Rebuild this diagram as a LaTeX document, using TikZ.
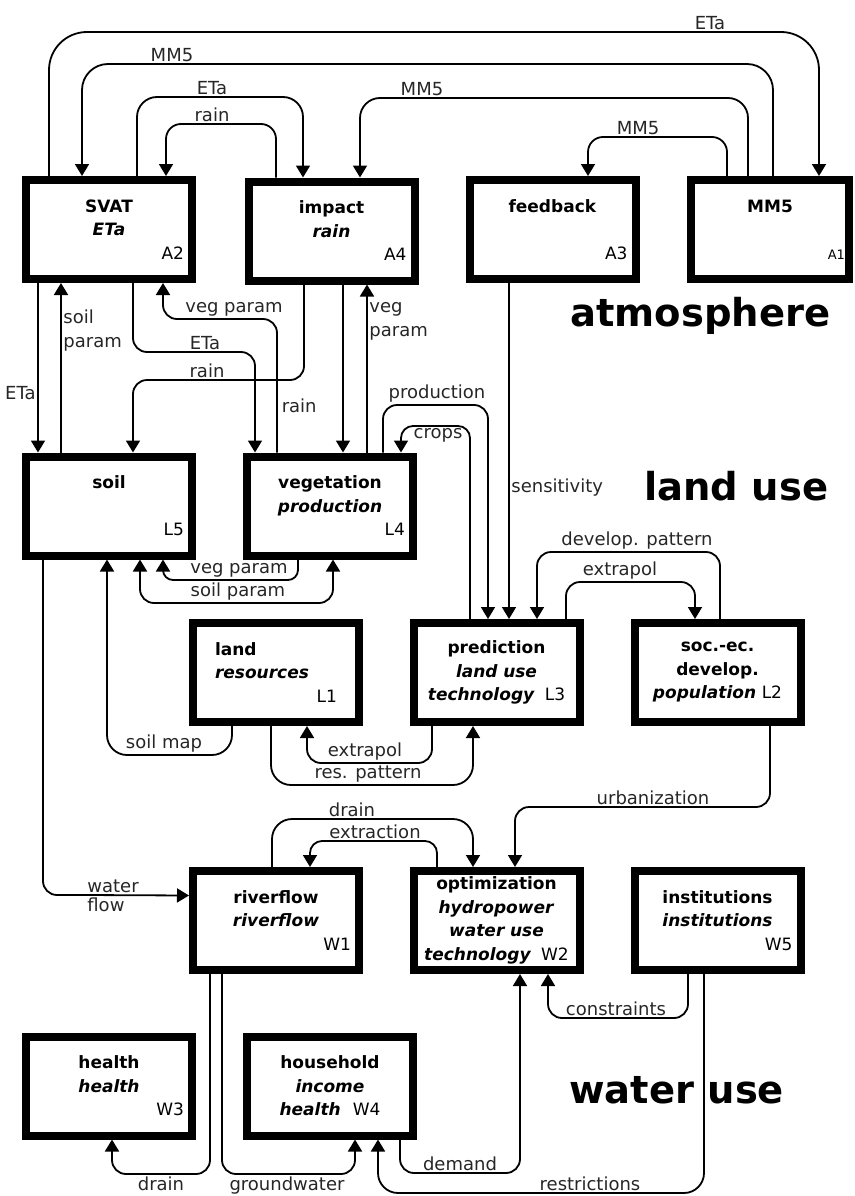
\documentclass[tikz,border=0pt]{standalone}
\usepackage{fontspec}
\setmainfont{DejaVu Sans}
\usetikzlibrary{arrows.meta,calc}
\newcommand\boxfont{\fontsize{17}{23.5}\selectfont}
\newcommand\lblfont{\fontsize{18}{23.5}\selectfont}
\newcommand\zonefont{\fontsize{38.5}{40}\selectfont\bfseries}
\newcommand\code[1]{\hspace*{\fill}#1\hspace*{14pt}}
\newcommand\bi[1]{\textbf{\textit{#1}}}

\begin{document}
\begin{tikzpicture}[x=1pt,y=-1pt,>={Triangle[length=12pt,width=14pt]},
		unit/.style={draw, line width=8pt, minimum width=166pt, minimum height=99pt, inner sep=0pt, text width=150pt, align=center, font=\boxfont},
		flow/.style={line width=1.8pt, rounded corners=14pt, ->},
		lbl/.style={font=\lblfont, text=black!85, inner sep=1.5pt},
		zone/.style={font=\zonefont, anchor=base west, inner sep=0pt}]
		\useasboundingbox (0,0) rectangle (854,1196);
		\node[unit] (svat) at (109,229.5) {\textbf{SVAT}\\\bi{ETa}\\\code{A2}};
		\node[unit] (impact) at (331.5,231) {\textbf{impact}\\\bi{rain}\\\code{A4}};
		\node[unit] (feedback) at (552.5,229.5) {\textbf{feedback}\\~\\\code{A3}};
		\node[unit, minimum width=158pt] (mm5) at (770,229.5) {\textbf{MM5}\\~\\\code{{\fontsize{13}{13}\selectfont A1}}};
		\node[unit] (soil) at (109,506) {\textbf{soil}\\~\\\code{L5}};
		\node[unit] (veg) at (330,506) {\textbf{vegetation}\\\bi{production}\\\code{L4}};
		\node[unit, align=left, text width=122pt] (land) at (276,672.5) {\textbf{land}\\\bi{resources}\\\hspace*{\fill}L1};
		\node[unit] (pred) at (496.5,672.5) {\textbf{prediction}\\\bi{land use}\\\bi{technology}\hspace{10pt}L3};
		\node[unit] (soc) at (717.5,672.5) {\textbf{soc.-ec.}\\\textbf{develop.}\\\bi{population} L2};
		\node[unit] (river) at (276,920.5) {\textbf{riverflow}\\\bi{riverflow}\\\code{W1}};
		\node[unit] (opt) at (496.5,920.5) {\textbf{optimization}\\\bi{hydropower}\\\bi{water use}\\\bi{technology}\hspace{10pt}W2};
		\node[unit] (inst) at (717.5,920.5) {\textbf{institutions}\\\bi{institutions}\\\code{W5}};
		\node[unit] (health) at (109,1086) {\textbf{health}\\\bi{health}\\\code{W3}};
		\node[unit] (house) at (330,1086) {\textbf{household}\\\bi{income}\\\bi{health}\hspace{12pt}W4};
		\node[zone] (atm) at (570,326) {atmosphere};
		\node[zone] (lu) at (644,500) {land use};
		\node[zone] (wu) at (569,1103) {water use};
		\draw[flow, rounded corners=38pt] ($(svat.north)+(-60,0)$) |- (710,32) node[lbl,above] (eta1) {ETa} -| ($(mm5.north)+(49,0)$);
		\draw[flow, rounded corners=26pt] ($(mm5.north)+(3,0)$) |- (172,64) node[lbl,above] (mm1) {MM5} -| ($(svat.north)+(-27,0)$);
		\draw[flow, rounded corners=20pt] ($(svat.north)+(28,0)$) |- (212,97) node[lbl,above] (eta2) {ETa} -| ($(impact.north)+(-28.5,0)$);
		\draw[flow, rounded corners=15pt] ($(impact.north)+(-55.5,0)$) |- (212,124) node[lbl,above] (rain1) {rain} -| ($(svat.north)+(57,0)$);
		\draw[flow, rounded corners=20pt] ($(mm5.north)+(-22,0)$) |- (422,98) node[lbl,above] (mm2) {MM5} -| ($(impact.north)+(28.5,0)$);
		\draw[flow, rounded corners=15pt] ($(mm5.north)+(-43,0)$) |- (638,137) node[lbl,above] (mm3) {MM5} -| ($(feedback.north)+(35.5,0)$);
		\draw[flow] ($(svat.south)+(-71,0)$) -- node[lbl,pos=.65,left] (eta3) {ETa} ($(soil.north)+(-71,0)$);
		\draw[flow] ($(soil.north)+(-48,0)$) -- node[lbl,pos=.72,right,align=left] (sp1) {soil\\param} ($(svat.south)+(-48,0)$);
		\draw[flow] ($(veg.north)+(-53,0)$) |- (234,319) node[lbl,above] (vp1) {veg param} -| ($(svat.south)+(54,0)$);
		\draw[flow] ($(svat.south)+(24,0)$) |- (205,352) node[lbl,above] (eta4) {ETa} -| ($(veg.north)+(-75,0)$);
		\draw[flow] ($(impact.south)+(-27.5,0)$) |- (207,380) node[lbl,above] (rain2) {rain} -| ($(soil.north)+(24,0)$);
		\draw[flow] ($(impact.south)+(11.5,0)$) -- node[lbl,pos=.72,left=24pt] (rain3) {rain} ($(veg.north)+(13,0)$);
		\draw[flow] ($(veg.north)+(37,0)$) -- node[lbl,pos=.78,right,align=left] (vp2) {veg\\param} ($(impact.south)+(35.5,0)$);
		\draw[flow] ($(veg.north)+(53,0)$) |- (437,405) node[lbl,above] (prod) {production} -| ($(pred.north)+(-8.5,0)$);
		\draw[flow, rounded corners=12pt] ($(pred.north)+(-26.5,0)$) |- (438,426) node[lbl,below] (crops) {crops} -| ($(veg.north)+(71,0)$);
		\draw[flow] ($(feedback.south)+(-43.5,0)$) -- node[lbl,pos=.61,right] (sens) {sensitivity} ($(pred.north)+(12.5,0)$);
		\draw[flow] ($(soc.north)+(2.5,0)$) |- (637,552) node[lbl,above] (devp) {develop. pattern} -| ($(pred.north)+(40.5,0)$);
		\draw[flow] ($(pred.north)+(69.5,0)$) |- (620,582) node[lbl,above] (extr1) {extrapol} -| ($(soc.north)+(-22.5,0)$);
		\draw[flow, rounded corners=10pt] ($(veg.south)+(-32,0)$) |- (239,580) node[lbl,above] (vp3) {veg param} -| ($(soil.south)+(54,0)$);
		\draw[flow, <->] ($(soil.south)+(31,0)$) |- (238,603) node[lbl,above] (sp2) {soil param} -| ($(veg.south)+(3,0)$);
		\draw[flow, rounded corners=20pt] ($(land.south)+(-44,0)$) |- (164,755) node[lbl,above] (smap) {soil map} -| ($(soil.south)+(-2,0)$);
		\draw[flow] ($(pred.south)+(-64.5,0)$) |- (365,763) node[lbl,above] (extr2) {extrapol} -| ($(land.south)+(31,0)$);
		\draw[flow, rounded corners=20pt] ($(land.south)+(-5,0)$) |- (368,785) node[lbl,above] (resp) {res. pattern} -| ($(pred.south)+(-23.5,0)$);
		\draw[flow] ($(soil.south)+(-66,0)$) |- (85,895) node[lbl,above right] (wat) {water} node[lbl,below right] (flw) {flow} -- ($(river.west)+(0,-25)$);
		\draw[flow] ($(soc.south)+(52.5,0)$) |- (653,807) node[lbl,above] (urb) {urbanization} -| ($(opt.north)+(18.5,0)$);
		\draw[flow, rounded corners=20pt] ($(river.north)+(-4,0)$) |- (352,819) node[lbl,above] (drn1) {drain} -| ($(opt.north)+(-23.5,0)$);
		\draw[flow, rounded corners=12pt] ($(opt.north)+(-59.5,0)$) |- (375,841) node[lbl,above] (extc) {extraction} -| ($(river.north)+(34,0)$);
		\draw[flow] ($(river.south)+(-66,0)$) |- (161,1174) node[lbl,below] (drn2) {drain} -| ($(health.south)+(3,0)$);
		\draw[flow] ($(river.south)+(-54,0)$) |- (287,1174) node[lbl,below] (gw) {groundwater} -| ($(house.south)+(25,0)$);
		\draw[flow] ($(house.south)+(70,0)$) |- (460,1173) node[lbl,above] (dem) {demand} -| ($(opt.south)+(23.5,0)$);
		\draw[flow] ($(inst.south)+(-29.5,0)$) |- (616,1018) node[lbl,above] (cons) {constraints} -| ($(opt.south)+(51.5,0)$);
		\draw[flow, rounded corners=20pt] ($(inst.south)+(-13.5,0)$) |- (590,1193) node[lbl,above] (restr) {restrictions} -| ($(house.south)+(48,0)$);
	\end{tikzpicture}
\end{document}
